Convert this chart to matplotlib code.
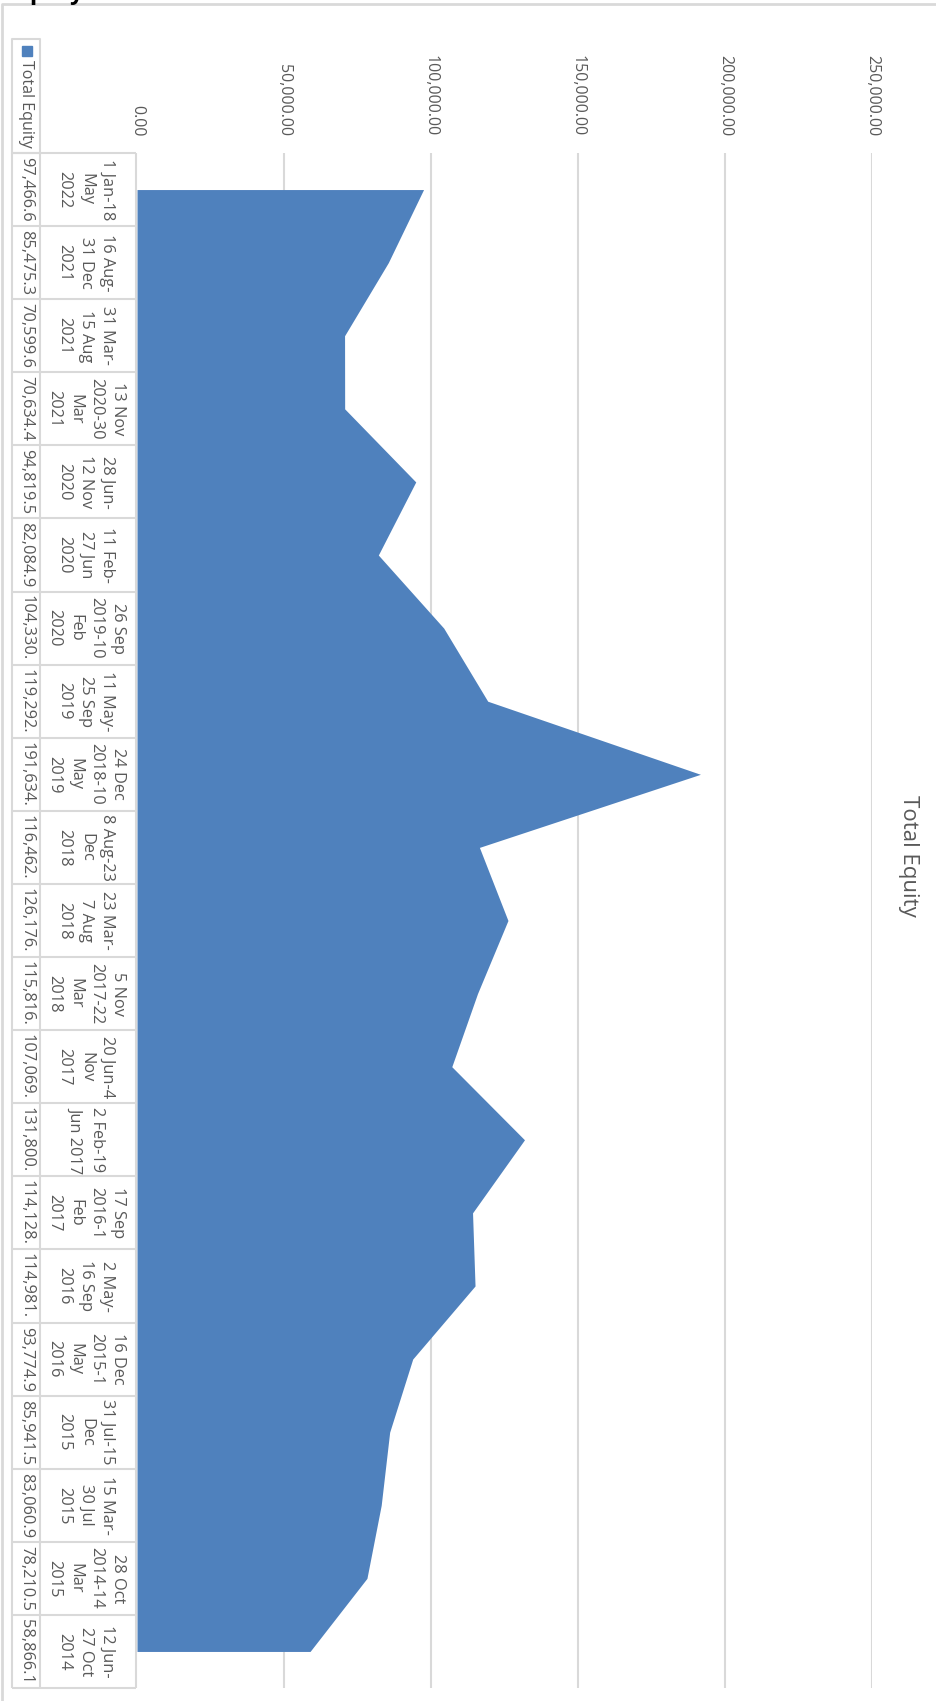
import matplotlib
matplotlib.use("Agg")
import matplotlib.pyplot as plt
import numpy as np

plt.rcParams['font.family'] = ['Open Sans', 'DejaVu Sans']

# data, top of the picture first
periods = [
    "1 Jan-18\nMay\n2022",
    "16 Aug-\n31 Dec\n2021",
    "31 Mar-\n15 Aug\n2021",
    "13 Nov\n2020-30\nMar\n2021",
    "28 Jun-\n12 Nov\n2020",
    "11 Feb-\n27 Jun\n2020",
    "26 Sep\n2019-10\nFeb\n2020",
    "11 May-\n25 Sep\n2019",
    "24 Dec\n2018-10\nMay\n2019",
    "8 Aug-23\nDec\n2018",
    "23 Mar-\n7 Aug\n2018",
    "5 Nov\n2017-22\nMar\n2018",
    "20 Jun-4\nNov\n2017",
    "2 Feb-19\nJun 2017",
    "17 Sep\n2016-1\nFeb\n2017",
    "2 May-\n16 Sep\n2016",
    "16 Dec\n2015-1\nMay\n2016",
    "31 Jul-15\nDec\n2015",
    "15 Mar-\n30 Jul\n2015",
    "28 Oct\n2014-14\nMar\n2015",
    "12 Jun-\n27 Oct\n2014",
]
total_equity = [97466.6, 85475.3, 70599.6, 70634.4, 94819.5, 82084.9,
                104330.0, 119292.0, 191634.0, 116462.0, 126176.0, 115816.0,
                107069.0, 131800.0, 114128.0, 114981.0, 93774.9, 85941.5,
                83060.9, 78210.5, 58866.1]
value_ticks = [0, 50000, 100000, 150000, 200000, 250000]
series_name = "Total Equity"
chart_title = "Total Equity"

W, H = 936, 1701
blue = '#4F81BD'
grid_c = '#D9D9D9'
txt_c = '#595959'

fig = plt.figure(figsize=(W / 100, H / 100), dpi=100)

# plot area in pixels
px_l, px_r, px_t, px_b = 137, 872, 153, 1688
n = len(total_equity)
ax = fig.add_axes([px_l / W, 1 - px_b / H, (px_r - px_l) / W, (px_b - px_t) / H])
pos = np.arange(n)
ax.vlines(value_ticks[1:], -0.5, n - 0.5, color=grid_c, lw=1.5, zorder=1)
ax.fill_betweenx(pos, 0, total_equity, color=blue, lw=0, zorder=2)
ax.set_xlim(value_ticks[0], value_ticks[-1])
ax.set_ylim(n - 0.5, -0.5)
for s in ax.spines.values():
    s.set_visible(False)
ax.xaxis.tick_top()
ax.set_xticks(value_ticks)
ax.set_xticklabels([f"{v:,.2f}" for v in value_ticks], rotation=-90,
                   fontsize=11.5, color=txt_c)
ax.tick_params(axis='x', length=0, pad=12)
ax.set_yticks([])

# data table on the left, sharing the category axis
tx_l, tx_m, tx_r = 12, 40, 136
tax = fig.add_axes([tx_l / W, 1 - px_b / H, (tx_r - tx_l) / W, (px_b - px_t) / H], sharey=ax)
tax.set_xlim(tx_l, tx_r)
tax.axis('off')
edges = np.arange(n + 1) - 0.5
tax.hlines(edges, tx_l, tx_r, color=grid_c, lw=1.5, clip_on=False)
tax.vlines([tx_l, tx_m, tx_r], -0.5, n - 0.5, color=grid_c, lw=1.5, clip_on=False)
for i, (lab, v) in enumerate(zip(periods, total_equity)):
    tax.text((tx_m + tx_r) / 2 - 2, i, lab, rotation=-90, ha='center', va='center',
             multialignment='center', fontsize=11.8, color=txt_c, linespacing=1.45)
    tax.text((tx_l + tx_m) / 2, i, f"{v:,.1f}"[:8], rotation=-90, ha='center',
             va='center', fontsize=11.8, color=txt_c)

# overlay in pixel coordinates: frame, legend cell, title
oax = fig.add_axes([0, 0, 1, 1], zorder=-1)
oax.set_xlim(0, W)
oax.set_ylim(H, 0)
oax.axis('off')
oax.plot([2, 2, W], [H, 4, 4], color=grid_c, lw=2)
oax.plot([tx_m, tx_l, tx_l, tx_m, tx_m], [px_t, px_t, 39, 39, px_t], color=grid_c, lw=1.5)
oax.add_patch(plt.Rectangle((22, 46), 10, 10, color=blue))
oax.text(26, 60, series_name, rotation=-90, ha='center', va='top',
         fontsize=11.5, color=txt_c)
oax.text(908, 856, chart_title, rotation=-90, ha='center', va='center',
         fontsize=16, color=txt_c)
oax.text(10, -1, "Equity", ha='left', va='baseline', fontsize=17,
         fontweight='bold', color='black', clip_on=False)

fig.savefig("out.png", dpi=100)
